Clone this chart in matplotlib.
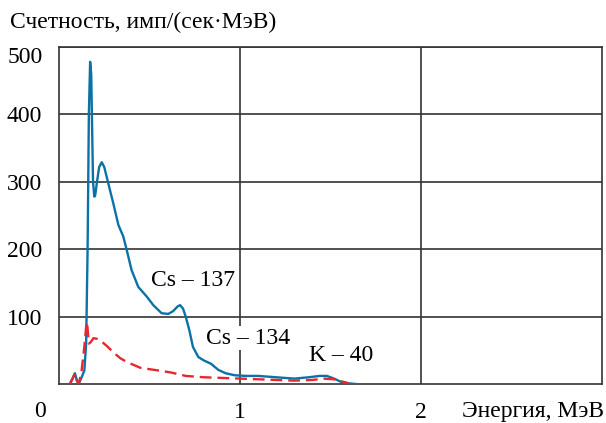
import matplotlib
matplotlib.use('Agg')
from matplotlib import pyplot as plt
from matplotlib import transforms

# blue: total spectrum (energy MeV, counts)
blue_x = [0.06, 0.075, 0.088, 0.1, 0.11, 0.125, 0.14, 0.15, 0.158, 0.165, 0.172, 0.178,
          0.183, 0.188, 0.195, 0.2, 0.21, 0.222, 0.236, 0.25, 0.272, 0.3, 0.328, 0.355,
          0.374, 0.401, 0.438, 0.484, 0.521, 0.567, 0.604, 0.63, 0.655, 0.669, 0.685,
          0.7, 0.72, 0.74, 0.77, 0.8, 0.84, 0.88, 0.92, 0.97, 1.03, 1.1, 1.2, 1.3, 1.38,
          1.44, 1.48, 1.52, 1.56, 1.6, 1.64]
blue_y = [0, 8, 16, 4, 1, 10, 20, 60, 200, 400, 478, 460, 380, 300, 278, 280, 300, 322,
          329, 322, 298, 268, 236, 219, 199, 169, 144, 130, 117, 105, 104, 108, 115, 117,
          112, 100, 80, 55, 40, 35, 30, 21, 16, 13, 12, 12, 10, 8, 10, 12, 12, 8, 3, 1, 0]

# red: dashed spectrum
red_x = [0.06, 0.075, 0.088, 0.1, 0.11, 0.125, 0.14, 0.15, 0.155, 0.16, 0.165, 0.175,
         0.19, 0.21, 0.24, 0.27, 0.3, 0.34, 0.38, 0.45, 0.55, 0.62, 0.7, 0.8, 0.9,
         1.0, 1.1, 1.2, 1.3, 1.4, 1.46, 1.52, 1.56, 1.6]
red_y = [0, 8, 16, 4, 1, 20, 55, 85, 92, 75, 60, 62, 68, 67, 62, 55, 47, 38, 32, 24,
         20, 17, 12, 10, 9, 8, 7, 6, 5, 6, 8, 7, 4, 1]

y_ticks = [100, 200, 300, 400, 500]
x_ticks = [1, 2]

labels = ['Cs – 137', 'Cs – 134', 'K – 40']
label_pos = [(0.74, 153), (1.045, 68), (1.56, 43)]

plt.rcParams['font.family'] = ['Liberation Serif', 'DejaVu Serif']
plt.rcParams['font.size'] = 17

fig = plt.figure(figsize=(6.06, 4.23), dpi=100)
ax = fig.add_axes([59 / 606, 39 / 423, 543 / 606, 337 / 423])

ax.plot(blue_x, blue_y, color='#0a72a6', lw=1.7, zorder=3)
ax.plot(red_x, red_y, color='#e8262f', lw=1.7, ls=(0, (5, 2.5)), zorder=4)

ax.set_xlim(0, 3)
ax.set_ylim(0, 500)
ax.set_xticks(x_ticks)
ax.set_xticklabels([str(t) for t in x_ticks])
ax.set_yticks(y_ticks)
ax.set_yticklabels([str(t) for t in y_ticks])
ax.tick_params(length=0, pad=12)
ax.tick_params(axis='x', pad=13)
# top label sits a bit below the frame in the original
top_lab = ax.get_yticklabels()[-1]
top_lab.set_transform(top_lab.get_transform() +
                      transforms.ScaledTranslation(0, -0.08, fig.dpi_scale_trans))
ax.grid(True, color='#333333', lw=1.2)
ax.set_axisbelow(True)
for s in ax.spines.values():
    s.set_color('#333333')
    s.set_linewidth(1.2)

for txt, (lx, ly) in zip(labels, label_pos):
    ax.text(lx, ly, txt, ha='center', va='center', zorder=5,
            bbox=dict(facecolor='white', edgecolor='none', pad=1))

fig.text(10 / 606, 1 - 22 / 423, 'Счетность, имп/(сек·МэВ)', ha='left', va='center')
fig.text(40 / 606, 1 - 411 / 423, '0', ha='center', va='center')
fig.text(604 / 606, 1 - 411 / 423, 'Энергия, МэВ', ha='right', va='center')

fig.savefig('out.png', dpi=100)
